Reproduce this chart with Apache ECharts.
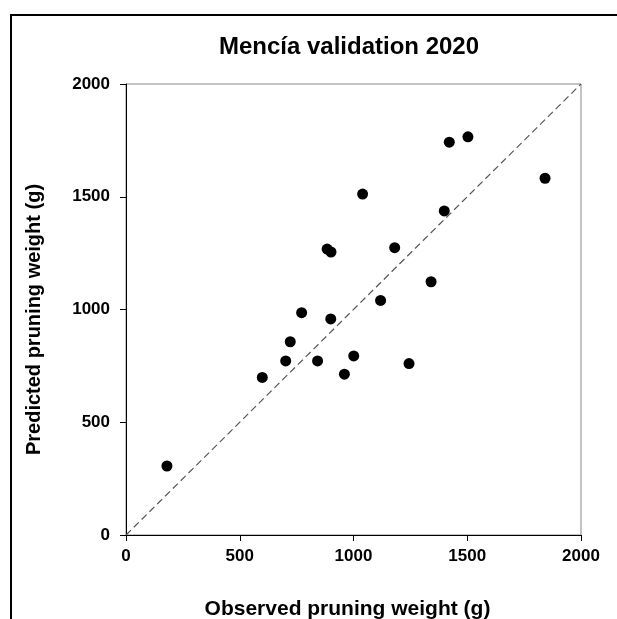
<!DOCTYPE html>
<html>
<head>
<meta charset="utf-8">
<script src="https://cdn.jsdelivr.net/npm/echarts@6/dist/echarts.min.js"></script>
<style>html,body{margin:0;padding:0;background:#fff;}#c{width:617px;height:619px;}</style>
</head>
<body>
<div id="c"></div>
<script>
const titleText = 'Mencía validation 2020';
const xName = 'Observed pruning weight (g)';
const yName = 'Predicted pruning weight (g)';
const observed = [180, 599, 702, 722, 772, 842, 900, 884, 901, 960, 1001, 1040, 1119, 1181, 1244, 1341, 1399, 1421, 1503, 1842];
const predicted = [306, 699, 772, 857, 986, 772, 958, 1268, 1255, 713, 794, 1512, 1040, 1274, 760, 1123, 1437, 1742, 1766, 1582];
const refLine = [[0, 0], [2000, 2000]];
const axisMin = 0, axisMax = 2000, axisStep = 500;

const points = observed.map((x, i) => [x, predicted[i]]);
const FONT = '"Liberation Sans", Arial, sans-serif';

const chart = echarts.init(document.getElementById('c'));
chart.setOption({
  backgroundColor: '#fff',
  animation: false,
  title: {
    text: titleText,
    left: 344,
    textAlign: 'center',
    top: 30,
    textStyle: { fontFamily: FONT, fontWeight: 'bold', fontSize: 24, color: '#000' }
  },
  graphic: [{
    type: 'rect',
    shape: { x: 11, y: 15, width: 700, height: 700 },
    style: { fill: 'none', stroke: '#000', lineWidth: 2 },
    silent: true, z: 100
  }],
  grid: {
    left: 126, top: 84, width: 455, height: 451,
    containLabel: false, outerBoundsMode: 'none',
    show: true, borderColor: '#888', borderWidth: 1, backgroundColor: '#fff'
  },
  xAxis: {
    type: 'value', min: axisMin, max: axisMax, interval: axisStep,
    name: xName, nameLocation: 'middle', nameGap: 64,
    nameTextStyle: { fontFamily: FONT, fontWeight: 'bold', fontSize: 21, color: '#000', padding: [0, 12, 0, 0] },
    axisLine: { show: true, lineStyle: { color: '#000', width: 1 } },
    axisTick: { show: true, inside: false, length: 6, lineStyle: { color: '#000' } },
    axisLabel: { margin: 13, fontFamily: FONT, fontWeight: 'bold', fontSize: 17, color: '#000', formatter: v => String(v) },
    splitLine: { show: false }
  },
  yAxis: {
    type: 'value', min: axisMin, max: axisMax, interval: axisStep,
    name: yName, nameLocation: 'middle', nameGap: 82,
    nameTextStyle: { fontFamily: FONT, fontWeight: 'bold', fontSize: 20, color: '#000', padding: [0, 20, 0, 0] },
    axisLine: { show: true, lineStyle: { color: '#000', width: 1 } },
    axisTick: { show: true, inside: false, length: 6, lineStyle: { color: '#000' } },
    axisLabel: { margin: 16, fontFamily: FONT, fontWeight: 'bold', fontSize: 17, color: '#000', formatter: v => String(v) },
    splitLine: { show: false }
  },
  series: [
    {
      type: 'line', data: refLine, symbol: 'none', silent: true,
      lineStyle: { color: '#555', width: 1.2, type: [7, 4] }, z: 2
    },
    {
      type: 'scatter', data: points, symbol: 'circle', symbolSize: 11,
      itemStyle: { color: '#000', opacity: 1 }, z: 3
    }
  ]
});
</script>
</body>
</html>
